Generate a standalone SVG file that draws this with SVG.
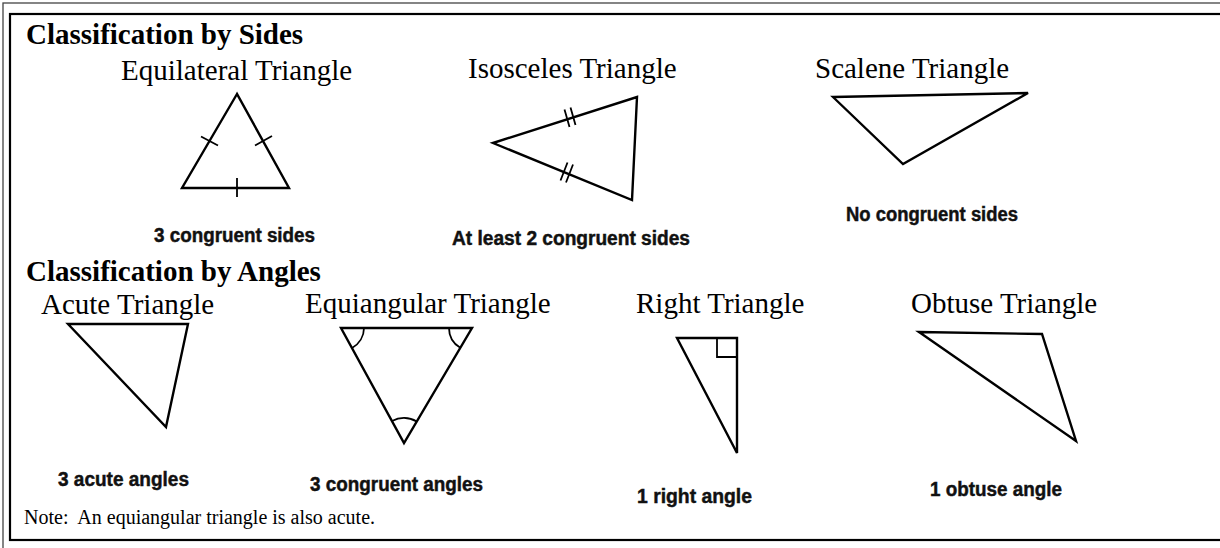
<svg xmlns="http://www.w3.org/2000/svg" width="1220" height="548" viewBox="0 0 1220 548">
<style>
.frame-outer{fill:none;stroke:#444;stroke-width:1.3}
.frame-inner{fill:none;stroke:#000;stroke-width:2.2}
.tri{fill:none;stroke:#000;stroke-width:2.4;stroke-linejoin:miter}
.mark{fill:none;stroke:#000;stroke-width:1.8}
.head{font-family:"Liberation Serif","Times New Roman",serif;font-weight:bold;font-size:29px;fill:#000}
.title{font-family:"Liberation Serif","Times New Roman",serif;font-size:29px;fill:#000}
.cap{font-family:"Liberation Sans",Arial,sans-serif;font-weight:bold;font-size:19.5px;fill:#111;stroke:#111;stroke-width:0.45}
.note{font-family:"Liberation Serif","Times New Roman",serif;font-size:20px;fill:#000;white-space:pre}
</style>
<rect x="0" y="0" width="1220" height="548" fill="#fff"/>
<rect class="frame-outer" x="3" y="3" width="1240" height="570"/>
<rect class="frame-inner" x="10" y="14" width="1230" height="526"/>

<g id="heading-sides"><text class="head" x="26" y="44">Classification by Sides</text></g>
<g id="heading-angles"><text class="head" x="26" y="281">Classification by Angles</text></g>

<g id="equilateral">
<text class="title" x="121" y="80">Equilateral Triangle</text>
<polygon class="tri" points="237,94 182,188 289,188"/>
<path class="mark" d="M201,136.5 L218,145.5 M255,145.5 L272,136 M237,178 L237,197"/>
<text class="cap" x="154" y="242" textLength="161" lengthAdjust="spacingAndGlyphs">3 congruent sides</text>
</g>

<g id="isosceles">
<text class="title" x="468" y="78">Isosceles Triangle</text>
<polygon class="tri" points="493,143 637,97 632,200"/>
<path class="mark" d="M564.5,109.5 L569.5,127 M570.5,107.5 L575.5,125 M566,182.5 L573,164.5 M560.5,180.5 L567.5,162.5"/>
<text class="cap" x="452" y="245" textLength="238" lengthAdjust="spacingAndGlyphs">At least 2 congruent sides</text>
</g>

<g id="scalene">
<text class="title" x="815" y="78">Scalene Triangle</text>
<polygon class="tri" points="833,97 1028,93 903,164"/>
<text class="cap" x="846" y="221" textLength="172" lengthAdjust="spacingAndGlyphs">No congruent sides</text>
</g>

<g id="acute">
<text class="title" x="41" y="314">Acute Triangle</text>
<polygon class="tri" points="68,324 188,324 166,427"/>
<text class="cap" x="58" y="486" textLength="131" lengthAdjust="spacingAndGlyphs">3 acute angles</text>
</g>

<g id="equiangular">
<text class="title" x="305" y="313">Equiangular Triangle</text>
<polygon class="tri" points="341,328 472,328 404,443"/>
<path class="mark" d="M364,328 A23,23 0 0 1 352,348 M449,328 A23,23 0 0 0 460.3,347.8 M392,421 A25,25 0 0 1 416.7,421.5"/>
<text class="cap" x="310" y="491" textLength="173" lengthAdjust="spacingAndGlyphs">3 congruent angles</text>
</g>

<g id="right">
<text class="title" x="636" y="313">Right Triangle</text>
<polygon class="tri" points="677,338 737,338 737,453"/>
<path class="mark" d="M717,338 V357 H737"/>
<text class="cap" x="637" y="503" textLength="115" lengthAdjust="spacingAndGlyphs">1 right angle</text>
</g>

<g id="obtuse">
<text class="title" x="911" y="313">Obtuse Triangle</text>
<polygon class="tri" points="919,332 1042,334 1076,441"/>
<text class="cap" x="930" y="496" textLength="132" lengthAdjust="spacingAndGlyphs">1 obtuse angle</text>
</g>

<g id="note"><text class="note" x="24" y="524">Note:  An equiangular triangle is also acute.</text></g>
</svg>
